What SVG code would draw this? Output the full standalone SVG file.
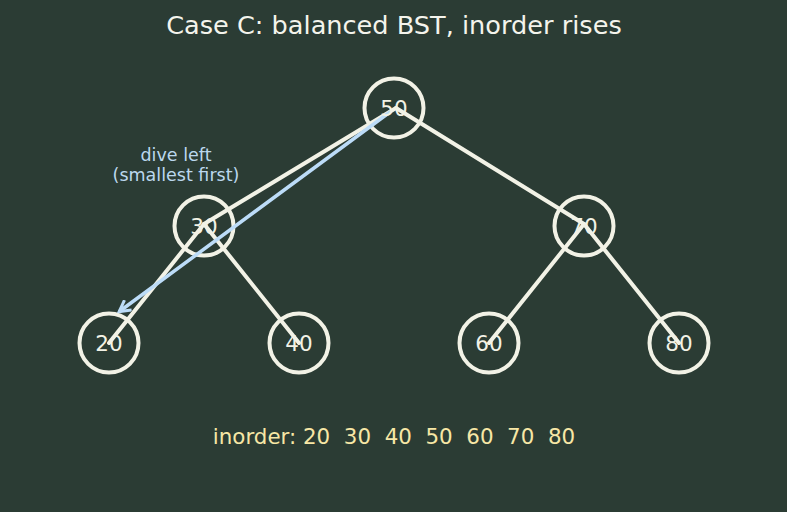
<svg xmlns="http://www.w3.org/2000/svg" width="787" height="512" viewBox="0 0 787 512">
<style>
.bg{fill:#2b3c34}
.node circle{fill:none;stroke:#f2f2e6;stroke-width:4}
.node text{font-family:"DejaVu Sans",sans-serif;font-size:21.5px;fill:#f2f2e6;text-anchor:middle}
.edge{stroke:#f2f2e6;stroke-width:4;stroke-linecap:round}
.title{font-family:"DejaVu Sans",sans-serif;font-size:25.6px;fill:#f4f4ec;text-anchor:middle}
.note{font-family:"DejaVu Sans",sans-serif;font-size:17.5px;fill:#bcd8ee;text-anchor:middle}
.inorder{font-family:"DejaVu Sans",sans-serif;font-size:21.4px;fill:#f7e7a6;text-anchor:middle;white-space:pre}
</style>
<defs>
<marker id="ah" markerWidth="14" markerHeight="14" refX="11" refY="7" orient="auto" markerUnits="userSpaceOnUse" viewBox="0 0 14 14">
<path d="M1,1 L12,7 L1,13" fill="none" stroke="#bcdcf8" stroke-width="3" stroke-linejoin="miter"/>
</marker>
</defs>
<rect class="bg" width="787" height="512"/>
<text class="title" x="394" y="34">Case C: balanced BST, inorder rises</text>
<g id="n50" class="node"><circle cx="394" cy="108" r="29.5"/></g>
<g id="n30" class="node"><circle cx="204" cy="226" r="29.5"/></g>
<g id="n70" class="node"><circle cx="584" cy="226" r="29.5"/></g>
<g id="n20" class="node"><circle cx="109" cy="343" r="29.5"/></g>
<g id="n40" class="node"><circle cx="299" cy="343" r="29.5"/></g>
<g id="n60" class="node"><circle cx="489" cy="343" r="29.5"/></g>
<g id="n80" class="node"><circle cx="679" cy="343" r="29.5"/></g>
<g id="connectors">
<line class="edge" x1="396" y1="108" x2="204" y2="224"/>
<line class="edge" x1="396" y1="108" x2="584" y2="224"/>
<line class="edge" x1="204" y1="224" x2="109" y2="343"/>
<line class="edge" x1="204" y1="224" x2="299" y2="343"/>
<line class="edge" x1="584" y1="224" x2="489" y2="343"/>
<line class="edge" x1="584" y1="224" x2="679" y2="343"/>
<line x1="390" y1="112" x2="120" y2="311" stroke="#bcdcf8" stroke-width="3.5" stroke-linecap="round" marker-end="url(#ah)"/>
</g>
<g class="node">
<text x="394" y="116">50</text>
<text x="204" y="234">30</text>
<text x="584" y="234">70</text>
<text x="109" y="351">20</text>
<text x="299" y="351">40</text>
<text x="489" y="351">60</text>
<text x="679" y="351">80</text>
</g>
<text class="note" x="176" y="161">dive left</text>
<text class="note" x="176" y="181">(smallest first)</text>
<text class="inorder" x="394" y="444">inorder: 20  30  40  50  60  70  80</text>
</svg>
